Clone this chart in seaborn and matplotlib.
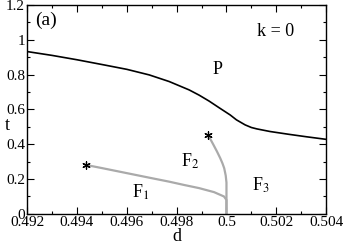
import matplotlib
matplotlib.use("Agg")
import matplotlib.pyplot as plt
import seaborn as sns
import pandas as pd
from matplotlib.ticker import MultipleLocator, FuncFormatter

# Data
p_d = [0.4920, 0.4930, 0.4940, 0.4951, 0.4960, 0.4969, 0.4977, 0.4985, 0.4989, 0.4993,
       0.4997, 0.50015, 0.5004, 0.50075, 0.5010, 0.50122, 0.50175, 0.5025, 0.5032, 0.5040]
p_t = [0.932, 0.910, 0.885, 0.855, 0.830, 0.798, 0.760, 0.712, 0.682, 0.648,
       0.610, 0.568, 0.540, 0.511, 0.496, 0.488, 0.473, 0.457, 0.443, 0.428]

f1_d = [0.49436, 0.4950, 0.4960, 0.4970, 0.4977, 0.4983, 0.4989, 0.4995, 0.4999, 0.5000, 0.5000]
f1_t = [0.281, 0.263, 0.234, 0.205, 0.185, 0.166, 0.148, 0.125, 0.100, 0.080, 0.0]

f2_d = [0.49926, 0.49937, 0.49948, 0.49962, 0.49975, 0.49984, 0.49991, 0.49997, 0.5000, 0.5000]
f2_t = [0.452, 0.425, 0.396, 0.358, 0.320, 0.290, 0.262, 0.220, 0.180, 0.0]

star_d = [0.49436, 0.49926]
star_t = [0.281, 0.452]

plt.rcParams['font.family'] = ['Liberation Serif', 'DejaVu Serif']
plt.rcParams['mathtext.fontset'] = 'stix'

fig, ax = plt.subplots(figsize=(3.44, 2.45), dpi=100)
fig.subplots_adjust(left=0.079, right=0.948, top=0.98, bottom=0.127)

sns.lineplot(data=pd.DataFrame({'d': p_d, 't': p_t}), x='d', y='t', ax=ax,
             color='black', linewidth=1.2, sort=False, estimator=None)
sns.lineplot(data=pd.DataFrame({'d': f1_d, 't': f1_t}), x='d', y='t', ax=ax,
             color='#aaaaaa', linewidth=1.6, sort=False, estimator=None)
sns.lineplot(data=pd.DataFrame({'d': f2_d, 't': f2_t}), x='d', y='t', ax=ax,
             color='#aaaaaa', linewidth=1.6, sort=False, estimator=None)
sns.scatterplot(data=pd.DataFrame({'d': star_d, 't': star_t}), x='d', y='t', ax=ax,
                marker=(6, 2, 0), color='black', s=28, linewidth=0.9, edgecolor='black', zorder=5)

ax.set_xlim(0.492, 0.504)
ax.set_ylim(0, 1.2)
ax.xaxis.set_major_locator(MultipleLocator(0.002))
ax.xaxis.set_minor_locator(MultipleLocator(0.001))
ax.yaxis.set_major_locator(MultipleLocator(0.2))
ax.yaxis.set_minor_locator(MultipleLocator(0.1))
ax.xaxis.set_major_formatter(FuncFormatter(lambda v, p: f"{v:.3f}".rstrip('0').rstrip('.')))
ax.yaxis.set_major_formatter(FuncFormatter(lambda v, p: f"{v:.1f}".rstrip('0').rstrip('.') if abs(v) > 1e-9 else "0"))
ax.tick_params(which='both', direction='in', top=True, right=True, labelsize=11, pad=1.5, width=0.8)
ax.tick_params(which='major', length=5)
ax.tick_params(which='minor', length=2.5)
for s in ax.spines.values():
    s.set_linewidth(1.0)

ax.set_xlabel('d', fontsize=13, va='center')
ax.xaxis.set_label_coords(0.5, -0.11)
ax.set_ylabel('t', fontsize=13, rotation=0, va='center', ha='center')
ax.yaxis.set_label_coords(-0.065, 0.425)

ax.text(0.4923, 1.11, '(a)', fontsize=14, va='center', ha='left')
ax.text(0.50199, 1.045, 'k = 0', fontsize=13, va='center', ha='center')
ax.text(0.49965, 0.83, 'P', fontsize=13, va='center', ha='center')
ax.text(0.49853, 0.30, r'F$_2$', fontsize=13, va='center', ha='center')
ax.text(0.49655, 0.125, r'F$_1$', fontsize=13, va='center', ha='center')
ax.text(0.50137, 0.165, r'F$_3$', fontsize=13, va='center', ha='center')

fig.savefig('out.png', dpi=100)
